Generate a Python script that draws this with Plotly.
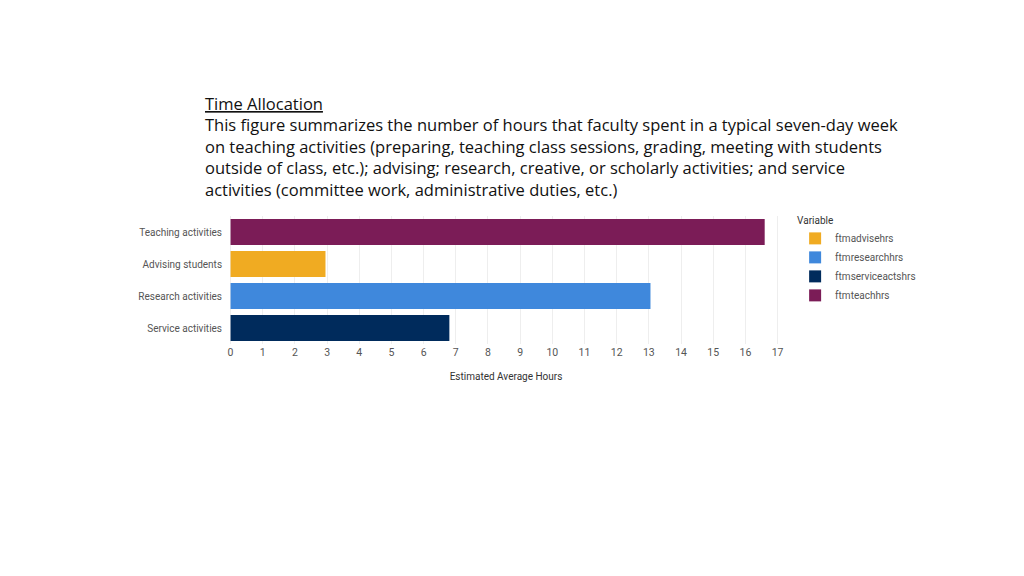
import plotly.graph_objects as go

categories = ["Teaching activities", "Advising students", "Research activities", "Service activities"]
variables = ["ftmteachhrs", "ftmadvisehrs", "ftmresearchhrs", "ftmserviceactshrs"]
values = [16.6, 2.95, 13.05, 6.8]
colors = {"ftmadvisehrs": "#f0ab22", "ftmresearchhrs": "#3f88dc",
          "ftmserviceactshrs": "#002b5c", "ftmteachhrs": "#7b1c57"}
legend_order = ["ftmadvisehrs", "ftmresearchhrs", "ftmserviceactshrs", "ftmteachhrs"]

fig = go.Figure()
for v in legend_order:
    i = variables.index(v)
    fig.add_trace(go.Bar(y=[categories[i]], x=[values[i]], orientation="h", name=v,
                         marker=dict(color=colors[v], line=dict(width=0)), width=0.82))

W, H = 1024, 576
l, r, t, b = 220, 248, 208, 240
fig.update_layout(
    width=W, height=H, margin=dict(l=l, r=r, t=t, b=b, autoexpand=False),
    plot_bgcolor="white", paper_bgcolor="white",
    font=dict(family="Roboto", color="#555", size=10),
    barmode="overlay", bargap=0.2,
    xaxis=dict(range=[-0.08, 17.2], dtick=1, showgrid=True, gridcolor="#eeeeee", zeroline=False,
               automargin=False,
               title=dict(text="Estimated Average Hours", font=dict(size=10, color="#333")),
               tickfont=dict(size=10.5, color="#555")),
    yaxis=dict(categoryorder="array", categoryarray=categories[::-1], ticksuffix="  ",
               automargin=False, tickfont=dict(size=10, color="#555")),
    legend=dict(x=1.02, y=1.04, xanchor="left", yanchor="top",
                title=dict(text="Variable", font=dict(size=10, color="#333")),
                font=dict(size=10, color="#555"), traceorder="normal", itemwidth=30,
                tracegroupgap=0),
)
plot_w = W - l - r
fig.add_annotation(
    xref="paper", yref="paper", x=(195 - l) / plot_w, y=(H - 82 - b) / (H - t - b),
    xanchor="left", yanchor="top", align="left", showarrow=False,
    font=dict(family="Open Sans", size=16.5, color="#111"),
    text="<u>Time Allocation</u><br>This figure summarizes the number of hours that faculty spent in a typical seven-day week<br>"
         "on teaching activities (preparing, teaching class sessions, grading, meeting with students<br>"
         "outside of class, etc.); advising; research, creative, or scholarly activities; and service<br>"
         "activities (committee work, administrative duties, etc.)")
fig.write_html("out.html")
